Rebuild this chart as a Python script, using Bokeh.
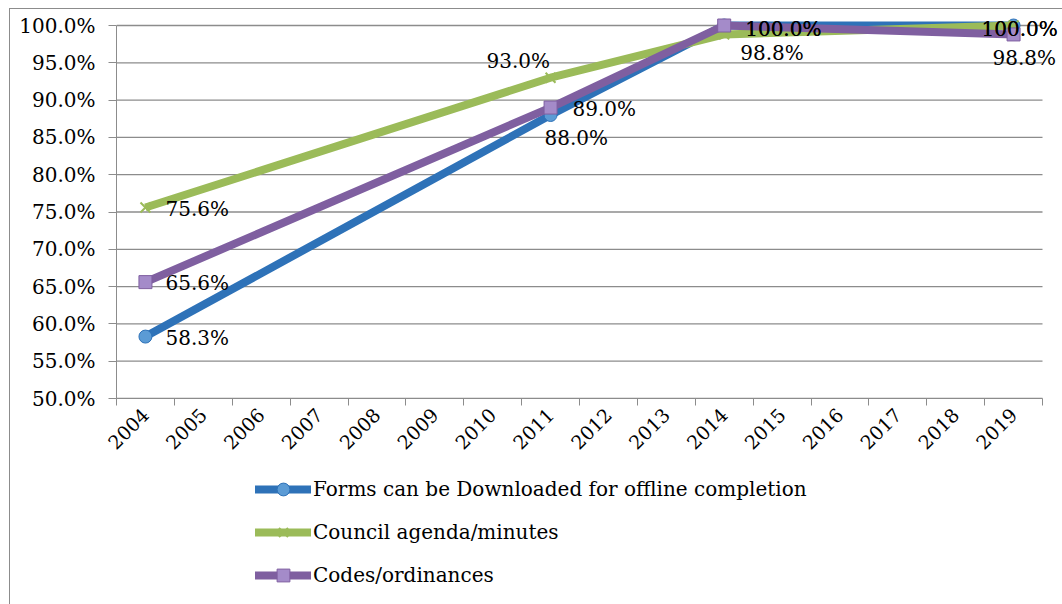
from bokeh.plotting import figure
from bokeh.layouts import column
from bokeh.models import (ColumnDataSource, FixedTicker, PrintfTickFormatter, Legend, LegendItem, Range1d)
from bokeh.embed import file_html
from bokeh.resources import INLINE
from bokeh.core.properties import value
import math

# ---- data ----
years = [str(y) for y in range(2004, 2020)]
point_years = ["2004", "2011", "2014", "2019"]
forms = [58.3, 88.0, 100.0, 100.0]
council = [75.6, 93.0, 98.8, 100.0]
codes = [65.6, 89.0, 100.0, 98.8]
series_names = ["Forms can be Downloaded for offline completion",
                "Council agenda/minutes",
                "Codes/ordinances"]
y_ticks = [50, 55, 60, 65, 70, 75, 80, 85, 90, 95, 100]

# ---- style (label offsets in screen px per point; +dy = down) ----
styles = {
    "forms":   dict(color="#2E72B8", marker="circle", fill="#5B9BD5",
                    dx=[20, -6, 21, -32], dy=[1, 23, 3, 3]),
    "council": dict(color="#9BBB59", marker="x", fill="#9BBB59",
                    dx=[20, -64, 16, -32], dy=[1, -17, 19, 3]),
    "codes":   dict(color="#7F5FA0", marker="square", fill="#A48BC9",
                    dx=[20, 22, 21, -21], dy=[1, 1, 3, 24]),
}
FONT = "DejaVu Serif"
GRID = "#8c8c8c"

n = len(years)
idx = {y: i + 0.5 for i, y in enumerate(years)}
xs = [idx[y] for y in point_years]

# frame: x 0..n spans 116..1042 px, y 50..100 spans 398..25 px; frame padded to canvas edges
px_x = 926 / n
px_y = 373 / 50

p = figure(width=1053, height=461, output_backend="svg", toolbar_location=None,
           x_range=Range1d(0, n + 20 / px_x), y_range=Range1d(50, 100 + 16 / px_y),
           min_border_left=106, min_border_right=1, min_border_top=0, min_border_bottom=72)
p.outline_line_color = None
p.background_fill_color = "white"
p.border_fill_color = "white"

# axes
p.xaxis.bounds = (0, n)
p.xaxis.ticker = FixedTicker(ticks=[idx[y] for y in years], minor_ticks=list(range(n + 1)))
p.xaxis.major_label_overrides = {idx[y]: y for y in years}
p.xaxis.major_label_orientation = math.pi / 4
p.xaxis.major_tick_out = 0
p.xaxis.major_tick_in = 0
p.xaxis.minor_tick_out = 7
p.xaxis.minor_tick_in = 0
p.xaxis.minor_tick_line_color = GRID
p.xaxis.axis_line_color = GRID
p.xaxis.major_label_text_font = FONT
p.xaxis.major_label_text_font_size = "19px"
p.xaxis.major_label_text_color = "black"
p.xaxis.major_label_standoff = 6

p.yaxis.bounds = (50, 100)
p.yaxis.ticker = FixedTicker(ticks=y_ticks)
p.yaxis.formatter = PrintfTickFormatter(format="%.1f%%")
p.yaxis.major_tick_out = 8
p.yaxis.major_tick_in = 0
p.yaxis.minor_tick_line_color = None
p.yaxis.major_tick_line_color = GRID
p.yaxis.axis_line_color = GRID
p.yaxis.major_label_text_font = FONT
p.yaxis.major_label_text_font_size = "20px"
p.yaxis.major_label_text_color = "black"
p.yaxis.major_label_standoff = 13

p.xgrid.grid_line_color = None
p.ygrid.grid_line_color = None
# horizontal gridlines limited to the category span
p.segment(x0=[0] * len(y_ticks), x1=[n] * len(y_ticks), y0=y_ticks, y1=y_ticks,
          line_color=GRID, line_width=1.3)

series = [("forms", forms, series_names[0]),
          ("council", council, series_names[1]),
          ("codes", codes, series_names[2])]

srcs = []
for key, vals, name in series:
    st = styles[key]
    src = ColumnDataSource(dict(x=xs, y=vals, lab=["%.1f%%" % v for v in vals],
                                dx=st["dx"], dy=st["dy"]))
    p.line("x", "y", source=src, line_color=st["color"], line_width=8, line_join="round")
    if st["marker"] == "x":
        p.scatter("x", "y", source=src, marker="x", size=14, line_color=st["color"], line_width=2)
    else:
        p.scatter("x", "y", source=src, marker=st["marker"], size=13,
                  fill_color=st["fill"], line_color=st["color"], line_width=1)
    srcs.append(src)

for src in srcs:
    p.text("x", "y", text="lab", source=src, x_offset="dx", y_offset="dy",
           text_align="left", text_baseline="middle", text_font=value(FONT),
           text_font_size="20px", text_color="black")

# ---- legend panel below the chart ----
lf = figure(width=1053, height=134, output_backend="svg", toolbar_location=None,
            x_range=Range1d(0, 1), y_range=Range1d(0, 1),
            min_border_left=0, min_border_right=0, min_border_top=0, min_border_bottom=0)
lf.axis.visible = False
lf.grid.visible = False
lf.outline_line_color = None
lf.background_fill_color = "white"
lf.border_fill_color = "white"

items = []
for key, vals, name in series:
    st = styles[key]
    blank = ColumnDataSource(dict(x=[float("nan")], y=[float("nan")]))
    ln = lf.line("x", "y", source=blank, line_color=st["color"], line_width=8, line_cap="round")
    if st["marker"] == "x":
        mk = lf.scatter("x", "y", source=blank, marker="x", size=14, line_color=st["color"], line_width=2)
    else:
        mk = lf.scatter("x", "y", source=blank, marker=st["marker"], size=13,
                        fill_color=st["fill"], line_color=st["color"], line_width=1)
    items.append(LegendItem(label=name, renderers=[ln, mk]))

legend = Legend(items=items, location=(139, 13), orientation="vertical",
                label_text_font=FONT, label_text_font_size="20px", label_text_color="black",
                glyph_width=56, glyph_height=32, spacing=11, padding=0, margin=0,
                label_standoff=2, border_line_color=None, background_fill_alpha=0)
lf.add_layout(legend, "center")

layout = column(p, lf, spacing=0)
layout.margin = (8, 0, 0, 9)
layout.styles = {"border-top": "1px solid #8c8c8c", "border-left": "1px solid #8c8c8c"}

open("out.html", "w").write(file_html(layout, INLINE))
